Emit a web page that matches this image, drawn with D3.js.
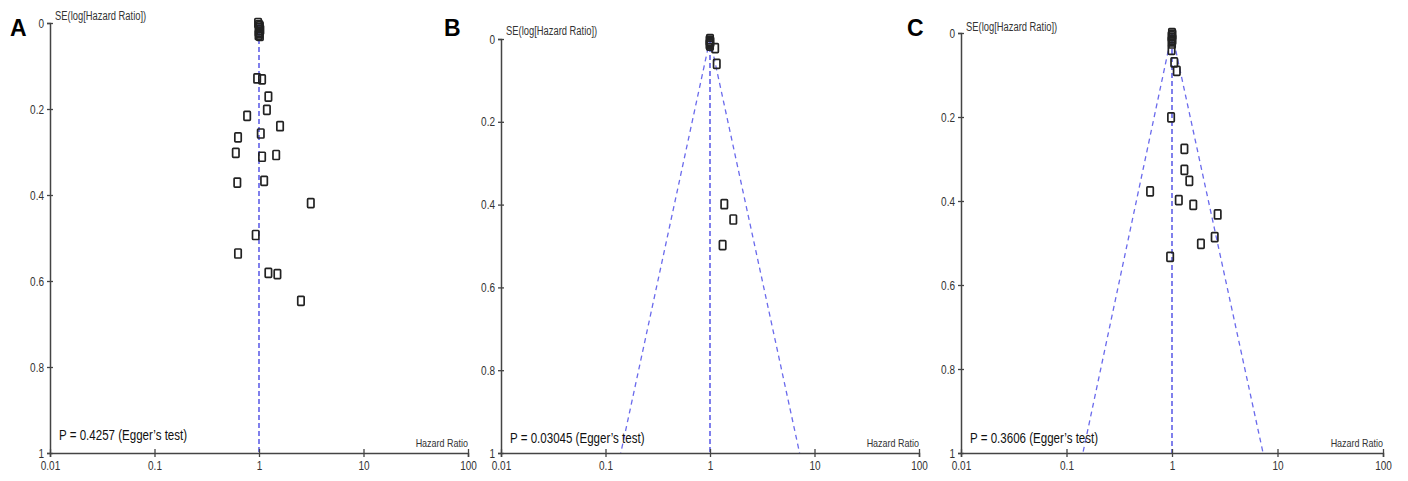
<!DOCTYPE html>
<html>
<head>
<meta charset="utf-8">
<script src="https://cdn.jsdelivr.net/npm/d3@7"></script>
<style>
  body { margin: 0; background: #fff; }
  svg { display: block; font-family: "Liberation Sans", Arial, sans-serif; }
</style>
</head>
<body>
<svg id="chart" width="1408" height="481"></svg>
<script>
"use strict";

// == DATA ==
var panelLetters = ["A", "B", "C"];
var eggerP = ["P = 0.4257 (Egger\u2019s test)", "P = 0.03045 (Egger\u2019s test)", "P = 0.3606 (Egger\u2019s test)"];
var xTicks = [0.01, 0.1, 1, 10, 100];
var yTicks = [0, 0.2, 0.4, 0.6, 0.8, 1];

// hazard ratio / standard error of log HR for each study
var hrA = [0.98, 1.0, 1.02, 1.0, 1.03, 0.99, 1.01, 0.99, 1.02, 0.96, 1.07, 1.23, 1.19, 0.77, 1.59, 0.63, 1.04, 0.60, 1.07, 1.46, 0.62, 1.12, 3.13, 0.93, 0.63, 1.23, 1.50, 2.52];
var seA = [0.0, 0.005, 0.008, 0.012, 0.016, 0.02, 0.024, 0.028, 0.03, 0.129, 0.131, 0.171, 0.202, 0.216, 0.240, 0.266, 0.257, 0.302, 0.311, 0.307, 0.371, 0.367, 0.419, 0.493, 0.536, 0.581, 0.584, 0.646];

var hrB = [1.0, 0.99, 1.01, 1.0, 0.99, 1.0, 1.12, 1.16, 1.37, 1.67, 1.32];
var seB = [0.0, 0.004, 0.007, 0.01, 0.013, 0.016, 0.022, 0.060, 0.399, 0.436, 0.498];

var hrC = [1.0, 1.01, 0.99, 1.0, 1.01, 0.99, 1.0, 0.99, 1.05, 1.11, 0.98, 1.31, 1.31, 1.46, 0.62, 1.16, 1.59, 2.71, 2.54, 1.88, 0.96];
var seC = [0.0, 0.004, 0.008, 0.012, 0.016, 0.02, 0.025, 0.040, 0.070, 0.090, 0.201, 0.276, 0.326, 0.352, 0.377, 0.398, 0.409, 0.432, 0.486, 0.502, 0.533];

// pooled estimate and pseudo 95% limits at SE = 1 (none drawn in A)
var pooledHR = [1.0, 1.0, 1.0];
var funnelLow = [null, 0.14, 0.143];
var funnelHigh = [null, 7.2, 7.3];

var hrData = [hrA, hrB, hrC];
var seData = [seA, seB, seC];

// == LAYOUT ==
var layout = [
	{ left: 50, right: 468, top: 23, bottom: 453, lx: 10, seY: 20, pY: 440 },
	{ left: 501, right: 919, top: 39, bottom: 453, lx: 444, seY: 35, pY: 443 },
	{ left: 961, right: 1383, top: 33, bottom: 453, lx: 907, seY: 31, pY: 443 }
];

var svg = d3.select("#chart");
var axisColor = "#444";
var blue = "#4a4ae4";

// squeeze text horizontally, the original figure uses a narrow face
function squeeze(sel, k) {
	sel.each(function () {
		var w = this.getComputedTextLength();
		d3.select(this).attr("textLength", w * k).attr("lengthAdjust", "spacingAndGlyphs");
	});
}

layout.forEach(function (L, p) {
	var g = svg.append("g");

	var x = d3.scaleLog().domain([0.01, 100]).range([L.left, L.right]);
	var y = d3.scaleLinear().domain([0, 1]).range([L.top, L.bottom]);

	// panel letter
	g.append("text")
		.attr("x", L.lx).attr("y", 36)
		.attr("font-size", 23).attr("font-weight", "bold")
		.text(panelLetters[p]);

	// dashed reference lines
	var pooled = pooledHR[p];
	g.append("line")
		.attr("x1", x(pooled)).attr("x2", x(pooled))
		.attr("y1", y(0)).attr("y2", y(1))
		.attr("stroke", blue).attr("stroke-width", 1.4)
		.attr("stroke-dasharray", "5,3");

	if (funnelLow[p] !== null) {
		[funnelLow[p], funnelHigh[p]].forEach(function (v) {
			g.append("line")
				.attr("x1", x(pooled)).attr("y1", y(0))
				.attr("x2", x(v)).attr("y2", y(1))
				.attr("stroke", "#6a6aec").attr("stroke-width", 1.3)
				.attr("stroke-dasharray", "5,4");
		});
	}

	// y axis
	var yAxis = g.append("g")
		.attr("transform", "translate(" + L.left + ",0)")
		.call(d3.axisLeft(y).tickValues(yTicks).tickSize(3).tickPadding(3)
			.tickFormat(function (d) { return d === 0 || d === 1 ? d3.format("d")(d) : d3.format(".1f")(d); }));
	yAxis.select(".domain").attr("stroke", axisColor).attr("stroke-width", 1.5);
	yAxis.selectAll(".tick line").attr("x1", -3).attr("x2", 3).attr("stroke", axisColor).attr("stroke-width", 1.3);
	yAxis.selectAll(".tick text").attr("font-size", 12.5).attr("fill", "#333")
		.attr("font-family", "Liberation Sans, Arial, sans-serif").call(squeeze, 0.8);

	// x axis
	var xAxis = g.append("g")
		.attr("transform", "translate(0," + L.bottom + ")")
		.call(d3.axisBottom(x).tickValues(xTicks).tickSize(4).tickPadding(4)
			.tickFormat(function (d) { return String(d); }));
	xAxis.select(".domain").attr("stroke", axisColor).attr("stroke-width", 1.5);
	xAxis.selectAll(".tick line").attr("y1", -4).attr("y2", 4).attr("stroke", axisColor).attr("stroke-width", 1.3);
	xAxis.selectAll(".tick text").attr("font-size", 12.5).attr("fill", "#333")
		.attr("font-family", "Liberation Sans, Arial, sans-serif").call(squeeze, 0.8);

	// axis titles
	g.append("text")
		.attr("x", L.left + 5).attr("y", L.seY)
		.attr("font-size", 12.5).attr("fill", "#333")
		.text("SE(log[Hazard Ratio])").call(squeeze, 0.75);

	g.append("text")
		.attr("x", L.right).attr("y", L.bottom - 6)
		.attr("text-anchor", "end")
		.attr("font-size", 11.5).attr("fill", "#333")
		.text("Hazard Ratio").call(squeeze, 0.78);

	// Egger's test
	g.append("text")
		.attr("x", L.left + 9).attr("y", L.pY)
		.attr("font-size", 15).attr("fill", "#111")
		.text(eggerP[p]).call(squeeze, 0.77);

	// study markers
	var pts = hrData[p].map(function (h, i) { return { hr: h, se: seData[p][i] }; });
	g.selectAll("rect.study")
		.data(pts)
		.enter().append("rect")
		.attr("class", "study")
		.attr("x", function (d) { return x(d.hr) - 3.2; })
		.attr("y", function (d) { return y(d.se) - 4.5; })
		.attr("width", 6.4).attr("height", 9)
		.attr("rx", 0.8)
		.attr("fill", "none")
		.attr("stroke", "#222").attr("stroke-width", 1.7);
});
</script>
</body>
</html>
